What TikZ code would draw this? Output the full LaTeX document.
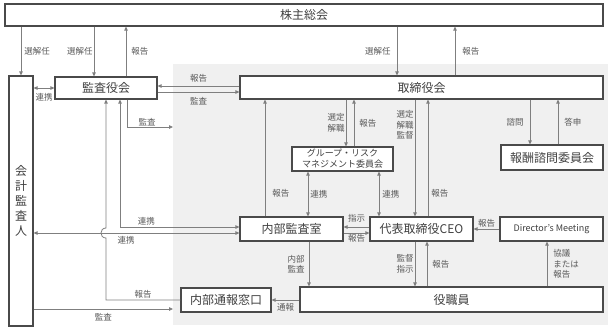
\documentclass[tikz,border=0pt]{standalone}
\usepackage{fontspec}
\setmainfont{Noto Sans CJK JP}
\usepackage{tikz}
\usetikzlibrary{arrows.meta,positioning}
\definecolor{bggray}{HTML}{F0F0F0}
\definecolor{linegray}{HTML}{7F7F7F}
\definecolor{edgegray}{HTML}{4A4A4A}
\definecolor{textgray}{HTML}{404040}
\definecolor{lblgray}{HTML}{595959}

\begin{document}
\begin{tikzpicture}[
    x=1pt, y=-1pt,
    box/.style={draw=edgegray, line width=1.1pt, fill=white, text=textgray, inner sep=0pt, font=\fontsize{12}{14}\selectfont},
    smallbox/.style={box, align=center, font=\fontsize{9}{11}\selectfont},
    lbl/.style={text=lblgray, inner sep=1pt, font=\fontsize{8.5}{10.5}\selectfont},
    arr/.style={draw=linegray, line width=0.8pt, -{Triangle[length=4pt,width=3.5pt]}},
    darr/.style={arr, {Triangle[length=4pt,width=3.5pt]}-{Triangle[length=4pt,width=3.5pt]}},
]
\useasboundingbox (0,0) rectangle (612,330);
\fill[bggray] (173,64) rectangle (608,325);

\node[box, minimum width=598pt, minimum height=22pt] (kabu) at (304,15) {株主総会};
\node[box, align=center, minimum width=24pt, minimum height=250pt, font=\fontsize{12}{15}\selectfont] (kaikei) at (21,201) {会\\計\\監\\査\\人};
\node[box, minimum width=102pt, minimum height=22pt] (kansa) at (106,88) {監査役会};
\node[box, minimum width=363pt, minimum height=23pt] (tori) at (421.5,87.5) {取締役会};
\node[smallbox, minimum width=101pt, minimum height=24pt] (group) at (342.5,159) {グループ・リスク\\マネジメント委員会};
\node[box, minimum width=102pt, minimum height=25pt] (housyu) at (552,157.5) {報酬諮問委員会};
\node[box, minimum width=103pt, minimum height=24pt] (naibu) at (291.5,229) {内部監査室};
\node[box, minimum width=103pt, minimum height=24pt] (ceo) at (421.5,229) {代表取締役CEO};
\node[smallbox, minimum width=103pt, minimum height=24pt] (dm) at (551.5,229) {Director’s Meeting};
\node[box, minimum width=303pt, minimum height=25pt] (yaku) at (451.5,299.5) {役職員};
\node[box, minimum width=90pt, minimum height=24pt] (madoguchi) at (226,300) {内部通報窓口};

\draw[arr] (kabu.south -| kaikei.north) -- node[lbl,right=2pt] {選解任} (kaikei.north);
\draw[arr] (kabu.south -| 94,0) -- node[lbl,left] {選解任} (kansa.north -| 94,0);
\draw[arr] (kansa.north -| 126,0) -- node[lbl,right=4pt] {報告} (kabu.south -| 126,0);
\draw[arr] (kabu.south -| 397,0) -- node[lbl,left=5pt] {選解任} (tori.north -| 397,0);
\draw[arr] (tori.north -| 455,0) -- node[lbl,right=6pt] {報告} (kabu.south -| 455,0);

\draw[darr] (kaikei.east |- kansa.west) -- node[lbl,below=4pt] {連携} (kansa.west);
\draw[arr] (tori.west |- 0,86) -- node[lbl,above=2pt] {報告} (kansa.east |- 0,86);
\draw[arr] (kansa.east |- 0,92) -- node[lbl,below=4pt] {監査} (tori.west |- 0,92);
\draw[arr] (kansa.south -| 127,0) |- node[lbl,above,pos=0.72] {監査} (173,127);

\draw[arr] (naibu.north -| 265,0) -- node[lbl,right=6pt,pos=0.2] {報告} (tori.south -| 265,0);
\draw[arr] (tori.south -| 346,0) -- node[lbl,left,align=center] {選定\\解職} (group.north -| 346,0);
\draw[arr] (group.north -| 354,0) -- node[lbl,right=4pt] {報告} (tori.south -| 354,0);
\draw[arr] (tori.south -| 415,0) -- node[lbl,left,align=center,pos=0.22] {選定\\解職\\監督} (ceo.north -| 415,0);
\draw[arr] (ceo.north -| 428,0) -- node[lbl,right=2pt,pos=0.2] {報告} (tori.south -| 428,0);
\draw[arr] (tori.south -| 530,0) -- node[lbl,left=5pt] {諮問} (housyu.north -| 530,0);
\draw[arr] (housyu.north -| 558,0) -- node[lbl,right=5pt] {答申} (tori.south -| 558,0);

\draw[darr] (group.south -| 308,0) -- node[lbl,right=1pt] {連携} (naibu.north -| 308,0);
\draw[darr] (group.south -| 379,0) -- node[lbl,right=2pt] {連携} (ceo.north -| 379,0);
\draw[arr] (ceo.west |- 0,227) -- node[lbl,above=3pt] {指示} (naibu.east |- 0,227);
\draw[arr] (naibu.east |- 0,233) -- node[lbl,below] {報告} (ceo.west |- 0,233);
\draw[arr] (dm.west) -- node[lbl,above] {報告} (ceo.east);

\draw[arr] (naibu.south -| 309,0) -- node[lbl,left=3pt,align=center] {内部\\監査} (yaku.north -| 309,0);
\draw[arr] (ceo.south -| 415,0) -- node[lbl,left,align=center] {監督\\指示} (yaku.north -| 415,0);
\draw[arr] (yaku.north -| 427,0) -- node[lbl,right=4pt] {報告} (ceo.south -| 427,0);
\draw[arr] (yaku.north -| 547,0) -- node[lbl,right=5pt,align=left] {協議\\または\\報告} (dm.south -| 547,0);
\draw[arr] (yaku.west |- madoguchi.east) -- node[lbl,below=2pt] {通報} (madoguchi.east);

\draw[arr] (madoguchi.west) -- node[lbl,above] {報告} (kansa.south |- madoguchi.west) -- (106,238) .. controls (99.3,238) and (99.3,228) .. (106,228) -- (kansa.south);
\draw[darr] (kansa.south -| 120,0) |- node[lbl,above,pos=0.61] {連携} (naibu.west |- 0,227);
\draw[darr] (kaikei.east |- 0,233) -- node[lbl,below=2pt,pos=0.45] {連携} (naibu.west |- 0,233);
\draw[arr] (kaikei.east |- 0,309) -- node[lbl,below=3pt] {監査} (173,309);
\end{tikzpicture}
\end{document}
